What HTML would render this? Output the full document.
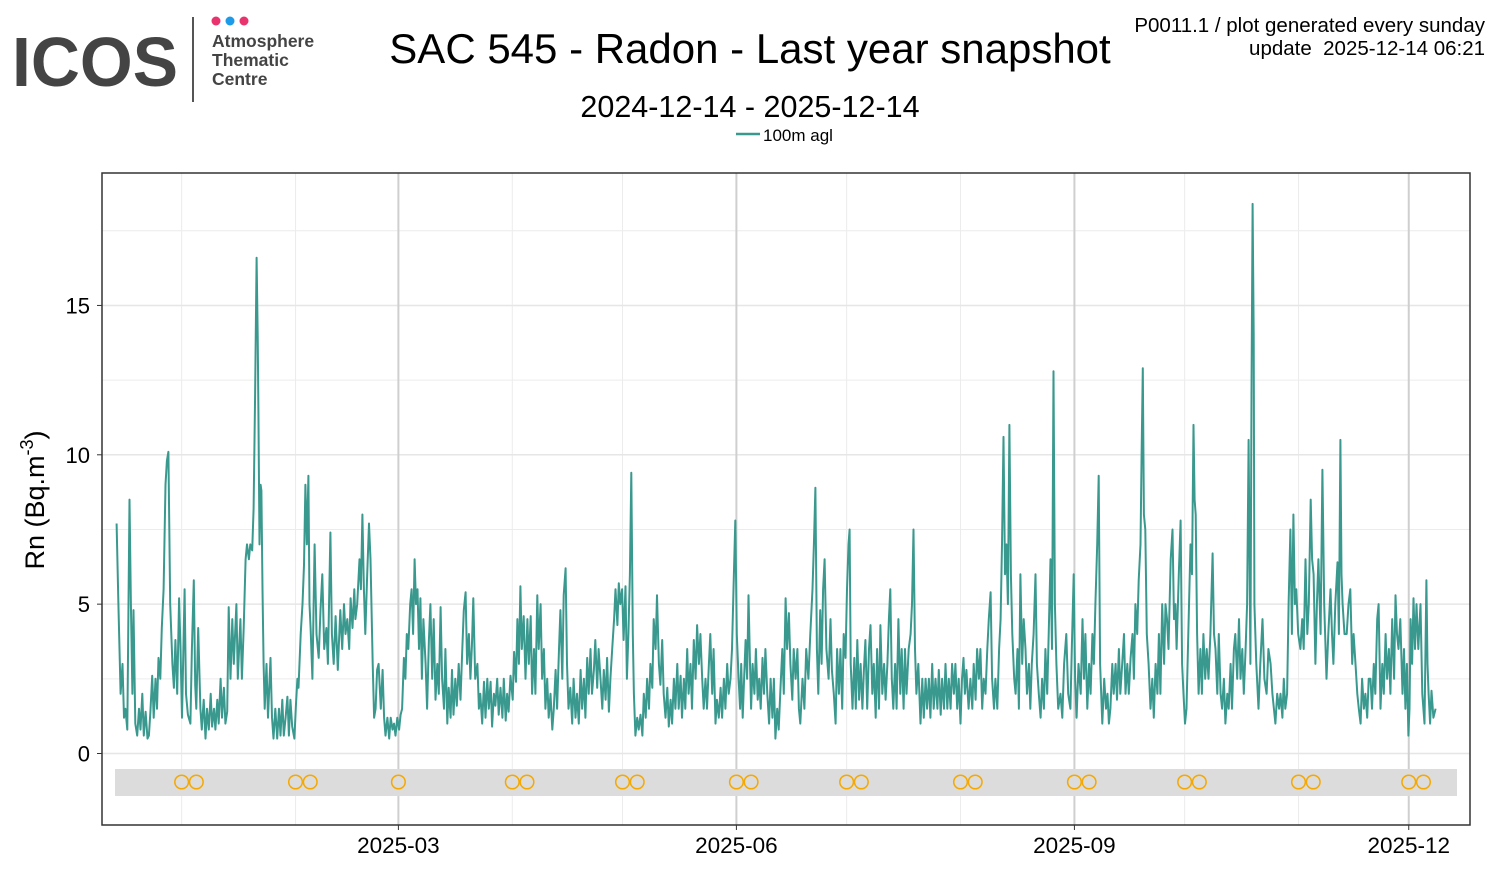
<!DOCTYPE html>
<html><head><meta charset="utf-8"><style>
body{margin:0;background:#fff;width:1500px;height:870px;overflow:hidden;font-family:"Liberation Sans",sans-serif}
svg text{font-family:"Liberation Sans",sans-serif}
</style></head><body>
<svg id="chart" width="1500" height="870" viewBox="0 0 1500 870">
<g>
<text x="12" y="86" font-size="70" font-weight="bold" fill="#444" textLength="166" lengthAdjust="spacingAndGlyphs">ICOS</text>
<line x1="193" y1="17" x2="193" y2="102" stroke="#555" stroke-width="2"/>
<circle cx="216" cy="21" r="4.5" fill="#e8336f"/><circle cx="230" cy="21" r="4.5" fill="#1e9be8"/><circle cx="244" cy="21" r="4.5" fill="#e8336f"/>
<text x="212" y="47" font-size="17.5" font-weight="bold" fill="#444">Atmosphere</text>
<text x="212" y="66" font-size="17.5" font-weight="bold" fill="#444">Thematic</text>
<text x="212" y="85" font-size="17.5" font-weight="bold" fill="#444">Centre</text>
</g>
<text x="750" y="63" font-size="42" text-anchor="middle" fill="#000">SAC 545 - Radon - Last year snapshot</text>
<text x="750" y="117" font-size="30.5" text-anchor="middle" fill="#000">2024-12-14 - 2025-12-14</text>
<text x="1485" y="32" font-size="20.5" text-anchor="end" fill="#000">P0011.1 / plot generated every sunday</text>
<text x="1485" y="55" font-size="20.5" text-anchor="end" fill="#000" xml:space="preserve">update  2025-12-14 06:21</text>
<g>
<line x1="736" y1="134" x2="760" y2="134" stroke="#3a998e" stroke-width="2.5"/>
<text x="763" y="141" font-size="17" fill="#000">100m agl</text>
</g>
<g id="grid"></g>
<g id="band"></g>
<path id="series" fill="none" stroke="#3a998e" stroke-width="2" stroke-linejoin="round"/>
<rect x="102" y="173" width="1368" height="652" fill="none" stroke="#333" stroke-width="1.5"/>
<g id="axes"></g>
<text transform="translate(44,500) rotate(-90)" font-size="27" text-anchor="middle" fill="#000">Rn (Bq.m<tspan dy="-11" font-size="18">-3</tspan><tspan dy="11">)</tspan></text>
</svg>
<script>
const days=[0.3,0.8,1.4,1.9,2.3,2.7,3.2,3.8,4.2,4.6,4.9,5.4,5.9,6.4,6.8,7.3,7.7,8.2,8.7,9.1,9.5,10.0,10.4,10.9,11.3,11.7,12.2,12.6,13.1,13.6,14.0,14.4,14.9,15.5,15.9,16.3,16.8,17.3,17.7,18.1,18.8,19.2,19.7,20.4,20.8,21.3,21.7,22.0,22.5,23.1,23.5,24.0,24.5,24.9,25.4,25.9,26.3,26.8,27.2,27.7,28.1,28.6,29.0,29.5,29.9,30.4,30.8,31.3,31.8,32.2,32.9,33.3,34.0,34.4,34.9,35.4,35.8,36.3,36.7,37.2,37.6,38.0,38.4,38.7,38.9,39.2,39.5,39.7,40.0,40.3,40.6,41.1,41.5,42.2,42.6,43.0,43.5,44.0,44.5,44.9,45.4,45.8,46.3,46.8,47.2,47.6,48.1,48.7,49.1,49.5,49.8,50.4,50.9,51.3,51.7,52.1,52.5,52.8,53.1,53.6,54.2,54.7,55.3,55.8,56.3,56.8,57.4,57.8,58.5,58.9,59.4,59.9,60.5,61.2,61.7,62.2,62.6,63.1,63.6,64.0,64.5,65.0,65.3,65.8,66.4,66.8,67.2,67.6,68.0,68.5,69.0,69.4,70.0,70.4,70.8,71.2,71.6,72.2,72.7,73.1,73.5,74.0,74.5,74.9,75.4,75.8,76.2,76.7,77.2,77.6,78.0,78.5,78.9,79.3,79.7,80.2,80.6,81.0,81.4,81.8,82.2,82.6,83.0,83.4,83.8,84.4,84.8,85.3,85.7,86.2,86.6,87.1,87.6,88.0,88.5,88.9,89.4,89.8,90.3,90.7,91.2,91.6,92.0,92.5,92.9,93.4,93.9,94.4,94.8,95.3,95.7,96.2,96.6,97.0,97.4,97.9,98.5,98.9,99.3,99.8,100.3,100.7,101.2,101.6,102.1,102.5,103.0,103.4,103.9,104.3,104.8,105.3,105.7,106.2,106.6,107.0,107.5,108.1,108.5,109.0,109.4,109.8,110.2,110.6,111.1,111.6,112.1,112.5,113.0,113.4,113.9,114.3,114.8,115.2,115.7,116.1,116.6,117.0,117.5,117.9,118.4,118.9,119.3,119.8,120.2,120.7,121.1,121.6,122.0,122.5,122.9,123.3,123.8,124.3,124.7,125.2,125.6,126.1,126.6,127.0,127.5,127.9,128.4,128.8,129.3,129.7,130.2,130.6,131.1,131.5,132.0,132.5,132.9,133.4,133.8,134.3,134.7,135.2,135.7,136.1,136.6,137.0,137.4,137.9,138.3,138.8,139.2,139.6,140.0,140.4,140.8,141.1,141.5,142.0,142.4,142.9,143.4,143.8,144.3,144.7,145.2,145.6,146.1,146.5,147.0,147.4,147.9,148.3,148.8,149.2,149.7,150.2,150.6,151.1,151.5,152.0,152.4,152.9,153.3,153.8,154.2,154.7,155.1,155.6,156.0,156.5,156.9,157.4,157.9,158.3,158.8,159.2,159.7,160.1,160.6,161.0,161.5,161.9,162.4,162.8,163.3,163.7,164.2,164.7,165.1,165.6,166.0,166.5,166.9,167.4,167.8,168.2,168.7,169.1,169.6,170.0,170.3,170.7,171.1,171.5,171.9,172.3,172.7,173.0,173.4,173.9,174.3,174.8,175.2,175.6,176.1,176.5,176.9,177.4,177.9,178.3,178.8,179.2,179.6,180.1,180.5,181.0,181.5,181.9,182.4,182.8,183.3,183.7,184.2,184.6,185.1,185.6,186.0,186.4,187.0,187.5,188.0,188.6,189.1,189.7,190.1,190.5,190.9,191.3,191.8,192.2,192.6,193.0,193.5,194.1,194.6,195.0,195.5,196.0,196.4,196.9,197.3,197.8,198.2,198.7,199.1,199.5,199.8,200.1,200.6,201.1,201.5,201.9,202.4,202.8,203.3,203.7,204.1,204.6,205.1,205.5,206.0,206.4,206.9,207.3,207.8,208.2,208.7,209.2,209.6,210.1,210.5,210.9,211.3,211.7,212.2,212.6,213.1,213.6,214.0,214.5,214.9,215.3,215.9,216.4,216.8,217.2,217.6,218.0,218.5,219.1,219.6,220.0,220.5,220.9,221.4,221.8,222.3,222.7,223.2,223.7,224.1,224.6,225.0,225.5,225.9,226.4,226.8,227.3,227.7,228.2,228.6,229.1,229.5,230.0,230.4,230.8,231.2,231.6,232.2,232.7,233.2,233.6,234.1,234.5,235.0,235.4,235.9,236.3,236.8,237.3,237.7,238.2,238.6,239.1,239.5,240.0,240.5,240.9,241.3,241.7,242.1,242.5,242.9,243.3,243.7,244.1,244.6,245.0,245.5,245.9,246.3,246.8,247.2,247.7,248.1,248.6,249.0,249.4,249.9,250.4,250.8,251.3,251.8,252.2,252.7,253.1,253.6,254.0,254.5,254.9,255.3,255.7,256.1,256.6,257.2,257.7,258.2,258.8,259.3,259.9,260.3,260.8,261.2,261.6,262.1,262.7,263.2,263.6,264.0,264.5,265.0,265.4,265.9,266.3,266.7,267.2,267.6,268.0,268.6,269.1,269.6,270.0,270.4,270.8,271.3,271.7,272.2,272.6,273.1,273.5,274.0,274.5,274.9,275.4,275.8,276.3,276.8,277.2,277.6,278.1,278.5,279.0,279.3,279.6,279.9,280.3,280.7,281.2,281.7,282.2,282.6,283.1,283.6,284.0,284.4,284.9,285.4,285.8,286.2,286.6,287.2,287.7,288.1,288.5,288.8,289.4,289.9,290.3,290.7,291.1,291.5,292.0,292.6,293.0,293.4,293.7,294.0,294.4,294.8,295.3,295.7,296.1,296.6,297.0,297.5,298.0,298.6,299.0,299.4,299.9,300.3,300.8,301.2,301.7,302.1,302.6,303.0,303.5,303.9,304.4,304.8,305.3,305.8,306.2,306.7,307.1,307.6,308.0,308.4,308.9,309.2,309.5,309.8,310.0,310.5,311.1,311.6,312.2,312.7,313.3,313.8,314.4,314.9,315.3,315.7,316.2,316.7,317.1,317.6,318.0,318.4,318.9,319.3,319.8,320.2,320.6,321.0,321.4,321.9,322.5,323.0,323.4,323.9,324.4,324.8,325.3,325.7,326.1,326.6,327.0,327.4,328.0,328.5,329.0,329.6,330.1,330.7,331.1,331.5,332.0,332.6,333.0,333.4,333.7,334.0,334.5,335.1,335.6,336.1,336.6,337.0,337.5,338.0,338.4,338.9,339.3,339.8,340.2,340.7,341.1,341.6,342.0,342.5,342.9,343.4,343.8,344.3,344.8,345.2,345.7,346.1,346.6,347.0,347.5,348.0,348.4,348.8,349.2,349.7,350.3,350.7,351.1,351.5,351.9,352.2,352.5,352.9,353.3,353.7,354.1,354.6,355.2,355.7,356.3,356.8,357.1,357.4,357.8,358.2,358.7,359.3];
const rn=[7.7,5,2,3,1.2,1.5,0.8,8.5,5,2,4.8,1.0,0.6,1.5,0.8,2,0.6,1.4,0.5,0.6,1.4,2.6,1.2,2.5,1.5,3.2,2.5,4.2,5.5,9,9.8,10.1,5,3,2.2,3.8,2,5.2,3.5,1.2,5.5,2,1.3,1,3.5,5.8,2.3,1.5,4.2,1.5,0.8,1.8,0.5,1.5,0.8,2,0.9,1.5,0.8,1.8,1.0,2.5,1.2,2.2,1.0,1.4,4.9,2.5,4.5,3,5,2.5,4.5,2.5,4.2,6.5,7.0,6.5,7,6.8,8.2,12,16.6,14,11.5,7,9,8.8,5.5,3,1.5,3,1.2,3.2,1.2,0.5,1.5,0.5,1.5,0.6,1.8,0.6,1.2,1.9,0.6,1.8,0.9,0.5,1.6,2.5,2.2,4,5,6.3,9,7,9.3,5,4.2,2.5,7,4,3.2,4.8,6.0,3.5,4.2,3,7.4,4,3,4.6,2.8,4.8,3.5,5,4,4.5,3.5,5.2,4.2,5.5,4.5,5,6.5,5.5,8,5.5,4,6,7.7,6.5,3,1.2,1.5,2.8,3,1.5,2.8,1.2,0.6,1.2,0.5,1.2,0.8,1,0.6,1.2,0.8,1.3,1.5,3.2,2.5,4,3.5,5,5.5,4,6.5,5,5.5,3.5,5.2,2.5,4.5,3,1.5,3.8,5,2.5,4.5,1.8,3,2,4.9,2.5,1.5,3.5,1,2.2,1.2,2.8,1.3,2.5,1.6,3,1.8,3.5,4.8,5.4,3,4,2.5,3.6,5.2,2.5,3,1.5,2,1,2.4,1.2,2.5,1.5,2.4,0.9,2,1.6,2.5,1.3,2.2,1.2,2.5,1.1,2,1.4,2.6,1.8,3.4,2.4,4.5,3,5.6,3.5,4.6,2.5,4.5,3,4.6,2,3.5,2,5.3,3.5,5,2.5,3.5,1.5,2.5,1.2,2,0.8,1.5,2.8,1.5,3.5,4.8,2.5,5.3,6.2,3,1.5,2.2,1,2.5,1.2,2,1,2.8,1.5,2.5,1.2,3.2,2,3.5,2,2.8,3.8,2.2,3.5,2.5,1.5,2.8,1.8,3.2,1.4,2.5,3.5,4.5,5.5,4.3,5.7,5,5.5,3.8,5.6,2.5,4,6,9.4,4,2,0.6,1.2,0.8,1.3,0.6,2,1.2,2.5,1.5,3,2.2,4.5,3.5,5.3,3,2.3,3.8,2,1.2,2.2,0.9,1.8,1,2.5,1.5,3,1.5,2.6,1.2,2.5,1.5,3.5,2,3,1.5,3.8,2.5,4.3,3,4,2.5,1.5,2.5,1.5,3,4,2,3.5,1,1.8,1.2,2.2,1.2,2.5,1.5,3,2,2.5,3.5,5.5,7.8,4,2.5,1.5,3,1.2,2.5,3.8,2.5,5.3,3,1.5,3,2,3.5,1.8,2.5,1.5,3.2,2,3.5,2,1,2.5,1.2,2.5,0.5,1.5,0.8,2.2,3.5,2,5.2,3.5,4.7,3,1.8,3.5,2.5,3.5,1.5,1,2.5,1.5,3.5,2.5,4,5.5,7,8.9,3.5,2,4.8,3,5.5,6.5,3.5,2.5,4.5,2.8,2,1,3.5,2,3.5,1.5,4,3.2,5.5,7,7.5,3,1.5,3.2,1.5,3.8,1.8,3,1.5,2.8,3.8,1.5,3.5,4.3,2,3,1.2,3.5,1.5,4.3,2,3,1.8,3,4.5,5.5,2.5,1.5,3,1.5,4.5,2,3.5,1.5,3.5,2,3.5,4,5,7.5,3.5,2,3,1,2.5,1.2,2.5,1.5,2.5,1.2,3,1.5,2.5,1.5,2.8,1.3,2.5,1.5,3,1.5,2.5,1.5,3,2,3,1.5,2.5,1,2.5,3.2,2,2.8,1.5,2.5,1.5,3,1.8,3.5,2.5,3.5,1.5,2.5,2,3.5,4.5,5.4,2.5,1.5,2.5,1.5,3.5,4.5,7,10.6,6,7,5,11,6,4,2.5,2,3.5,1.5,6,3,4.5,3.5,2,3,1.5,3,4,6,3,2,1.2,2.5,1.5,3.5,2,4,6.5,3.5,12.8,5,3,1.5,2,1.2,3,4,2,1.5,3.5,6,2.5,1.2,3,2,4.5,2.5,4,1.5,3,2,4,3,5,7,9.3,3,1,2.5,1.5,2,1,1.5,3,2,3,1.8,3.5,2,3,4,2,3,2,3.2,4,2.5,5,4,5.8,7,10,12.9,8,7.5,4,3,1.5,2.5,1.2,3,2,4,2,5,3,5,4.5,3.5,6.5,7.5,4.5,5,3.5,6,7.8,3,2,1,1.5,4,7,6,11,8.5,8,4,2,3.5,2,4,2.5,3.5,2.5,4,6.7,4,3.5,2,4,2,1.5,2.5,1,2,1.5,3,1.5,3.5,4,2.5,4.5,2.5,3.5,2,3.5,5,10.5,3,12,18.4,14,5,3,1.5,3,4.5,2.5,2,3.5,3,2,1.5,1,2,1.5,2,1.2,2.5,1.5,2,5,7.5,4,8,5,5.5,4,3.5,4.5,3.5,6.5,4,5,8.5,6.5,6,3,5,6.5,4,9.5,5,2.5,4,5.5,4,3,5,6.4,4,10.5,6,5,4,4,5,5.5,3,4,3,2,1.5,1,2.5,1.5,2,1.2,2.5,2.5,1.5,3,2,4.5,5,1.5,3,2,4,2.5,3.5,2,4.5,2.5,5.3,4,3.5,4.5,2,3.5,1.5,3,0.6,1.5,4.5,3,5.2,3.5,5,3.5,5,2,1,5.8,3,2,1,2.1,1.2,1.5];
const yTicks=[0,5,10,15];
const yMinor=[2.5,7.5,12.5,17.5];
const xMajorDays=[77,169,261,352];
const xMajorLabels=["2025-03","2025-06","2025-09","2025-12"];
const xMinorDays=[18,49,108,138,199,230,291,322];
const flagDays=[18,22,49,53,77,108,112,138,142,169,173,199,203,230,234,261,265,291,295,322,326,352,356];

const NS="http://www.w3.org/2000/svg";
const X0=115.5, PXD=3.674, Y0=753.5, PXU=29.87;
const xs=d=>X0+d*PXD, ys=v=>Y0-v*PXU;
function mk(tag,attrs,parent){const e=document.createElementNS(NS,tag);for(const k in attrs)e.setAttribute(k,attrs[k]);parent.appendChild(e);return e;}
const grid=document.getElementById('grid'), axes=document.getElementById('axes'), band=document.getElementById('band');
yMinor.forEach(v=>{const l=mk('line',{x1:102,x2:1470,y1:ys(v),y2:ys(v),stroke:'#ececec','stroke-width':1},grid);

});
xMinorDays.forEach(d=>{const l=mk('line',{x1:xs(d),x2:xs(d),y1:173,y2:825,stroke:'#ececec','stroke-width':1},grid);

});
yTicks.forEach(v=>{const l=mk('line',{x1:102,x2:1470,y1:ys(v),y2:ys(v),stroke:'#e6e6e6','stroke-width':1.5},grid);


const t=mk('text',{x:90,y:ys(v)+8,'font-size':22,'text-anchor':'end',fill:'#000'},axes);t.textContent=v;


mk('line',{x1:97,x2:102,y1:ys(v),y2:ys(v),stroke:'#333'},axes);});
xMajorDays.forEach((d,i)=>{const l=mk('line',{x1:xs(d),x2:xs(d),y1:173,y2:825,stroke:'#cfcfcf','stroke-width':2},grid);


const t=mk('text',{x:xs(d),y:853,'font-size':22.5,'text-anchor':'middle',fill:'#000'},axes);t.textContent=xMajorLabels[i];


mk('line',{x1:xs(d),x2:xs(d),y1:825,y2:830,stroke:'#333'},axes);});
const br=mk('rect',{x:115,y:769,width:1342,height:27,fill:'#dcdcdc'},band);


flagDays.forEach(d=>{const c=mk('circle',{cx:xs(d),cy:782,r:6.8,fill:'none',stroke:'#f5a800','stroke-width':1.5},band);

});
let p='';const n=Math.min(days.length,rn.length);
for(let i=0;i<n;i++)p+=(i?'L':'M')+xs(days[i]).toFixed(1)+','+ys(rn[i]).toFixed(1);
document.getElementById('series').setAttribute('d',p);
</script>
</body></html>
